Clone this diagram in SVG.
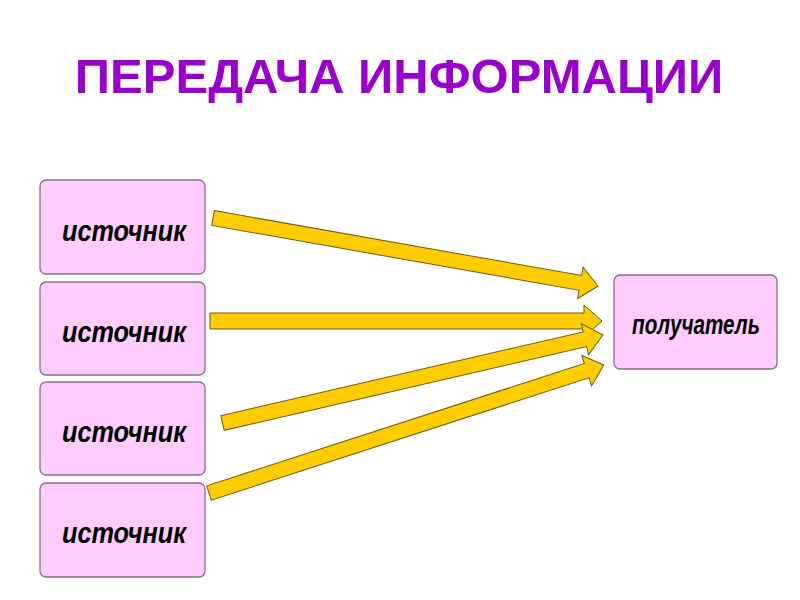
<svg xmlns="http://www.w3.org/2000/svg" width="800" height="600" viewBox="0 0 800 600">
<style>
.box{fill:#FFCCFF;stroke:#8C6C8C;stroke-width:1.3}
.lbl{font-family:"Liberation Sans",Arial,sans-serif;font-style:italic;font-weight:bold;font-size:29px;fill:#000;text-anchor:middle}
.title{font-family:"Liberation Sans",Arial,sans-serif;font-weight:bold;font-size:49px;fill:#9900CC;text-anchor:middle}
.arr{fill:#FFCC00;stroke:#6B5A1E;stroke-width:1}
</style>
<rect width="800" height="600" fill="#fff"/>
<text class="title" x="399" y="93">ПЕРЕДАЧА ИНФОРМАЦИИ</text>
<g id="src1"><rect class="box" x="40" y="180" width="165" height="94" rx="6"/><text class="lbl" x="124" y="241" textLength="124" lengthAdjust="spacingAndGlyphs">источник</text></g>
<g id="src2"><rect class="box" x="40" y="282" width="165" height="93" rx="6"/><text class="lbl" x="124" y="342" textLength="124" lengthAdjust="spacingAndGlyphs">источник</text></g>
<g id="src3"><rect class="box" x="40" y="382" width="165" height="93" rx="6"/><text class="lbl" x="124" y="442" textLength="124" lengthAdjust="spacingAndGlyphs">источник</text></g>
<g id="src4"><rect class="box" x="40" y="483" width="165" height="94" rx="6"/><text class="lbl" x="124" y="543" textLength="124" lengthAdjust="spacingAndGlyphs">источник</text></g>
<g id="dst"><rect class="box" x="614" y="275" width="163" height="94" rx="6"/><text class="lbl" x="696" y="334" style="font-size:27px" textLength="128" lengthAdjust="spacingAndGlyphs">получатель</text></g>
<g id="connectors">
<polygon class="arr" transform="translate(213,218) rotate(10.02)" points="0,-7.5 373,-7.5 373,-16 391,0 373,16 373,7.5 0,7.5"/>
<polygon class="arr" transform="translate(210,321)" points="0,-8 374,-8 374,-16 392,0 374,16 374,8 0,8"/>
<polygon class="arr" transform="translate(222.5,423) rotate(-13.02)" points="0,-7.5 372,-7.5 372,-16 390.5,0 372,16 372,7.5 0,7.5"/>
<polygon class="arr" transform="translate(209,493) rotate(-17.95)" points="0,-7.5 397,-7.5 397,-16 415,0 397,16 397,7.5 0,7.5"/>
</g>
</svg>
